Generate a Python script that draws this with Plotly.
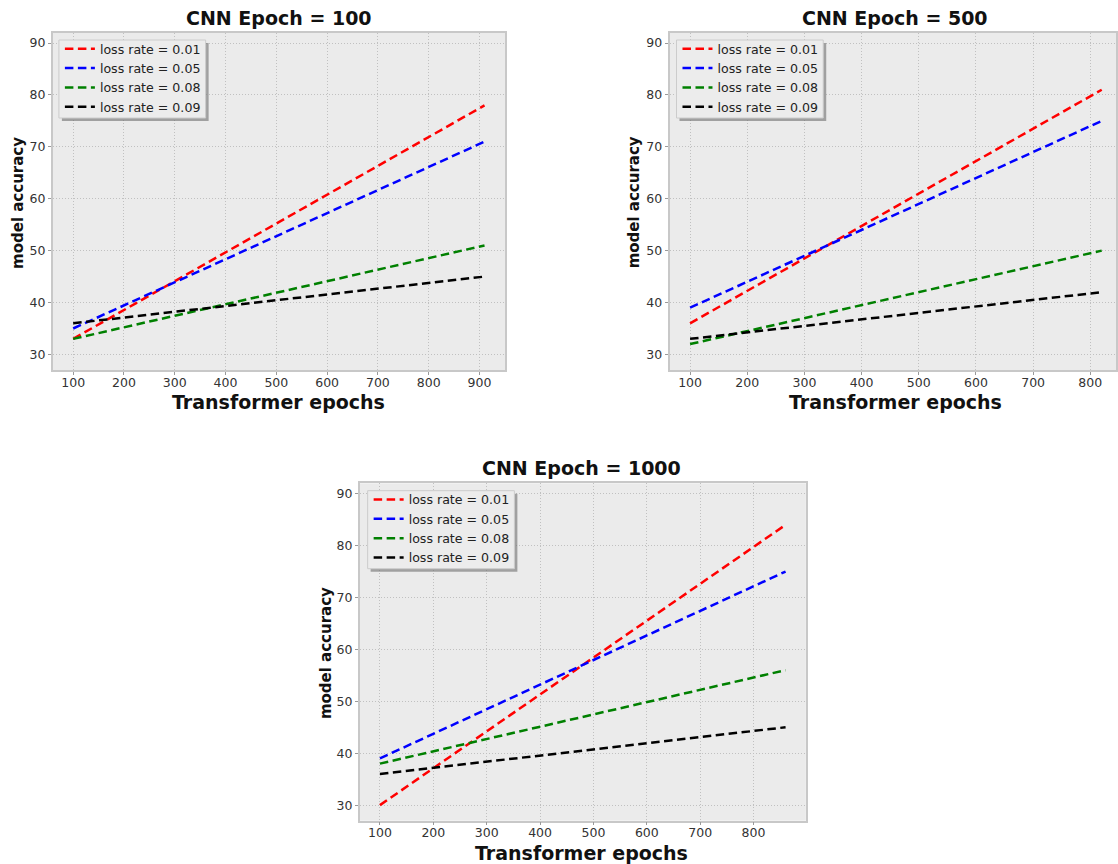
import plotly.graph_objects as go

# ---- data ----
titles = ["CNN Epoch = 100", "CNN Epoch = 500", "CNN Epoch = 1000"]
series_names = ["loss rate = 0.01", "loss rate = 0.05", "loss rate = 0.08", "loss rate = 0.09"]
colors = ["#ff0000", "#0000ff", "#008000", "#000000"]

x_ep100 = [100, 910]
y_ep100 = {
    "loss rate = 0.01": [33, 78],
    "loss rate = 0.05": [35, 71],
    "loss rate = 0.08": [33, 51],
    "loss rate = 0.09": [36, 45],
}
x_ep500 = [100, 820]
y_ep500 = {
    "loss rate = 0.01": [36, 81],
    "loss rate = 0.05": [39, 75],
    "loss rate = 0.08": [32, 50],
    "loss rate = 0.09": [33, 42],
}
x_ep1000 = [100, 860]
y_ep1000 = {
    "loss rate = 0.01": [30, 84],
    "loss rate = 0.05": [39, 75],
    "loss rate = 0.08": [38, 56],
    "loss rate = 0.09": [36, 45],
}
x_ticks = [100, 200, 300, 400, 500, 600, 700, 800, 900]
y_ticks = [30, 40, 50, 60, 70, 80, 90]

W, H = 1118, 864
FONT = "DejaVu Sans"

panels = [
    dict(x=x_ep100, ys=y_ep100, xdom=[52.7 / W, 506 / W], ydom=[1 - 370 / H, 1 - 32.7 / H],
         xr=[59.5, 950.5], legend_px=(59, 40)),
    dict(x=x_ep500, ys=y_ep500, xdom=[670.7 / W, 1.0], ydom=[1 - 370 / H, 1 - 32.7 / H],
         xr=[64, 845], legend_px=(677.7, 40)),
    dict(x=x_ep1000, ys=y_ep1000, xdom=[360.3 / W, 807.3 / W], ydom=[1 - 820.7 / H, 1 - 483.3 / H],
         xr=[62, 898], legend_px=(368.3, 490.7)),
]
LEG_W, LEG_H = 147, 78

fig = go.Figure()
layout = dict(width=W, height=H, margin=dict(l=0, r=0, t=0, b=0),
              paper_bgcolor="white", plot_bgcolor="#ebebeb",
              font=dict(family=FONT, color="#333333", size=12), showlegend=True)
annotations = []
shapes = []

for i, p in enumerate(panels):
    k = "" if i == 0 else str(i + 1)
    lg = "legend" if i == 0 else f"legend{i + 1}"
    for name, col in zip(series_names, colors):
        fig.add_trace(go.Scatter(
            x=p["x"], y=p["ys"][name], mode="lines", name=name,
            line=dict(color=col, width=2.5, dash="8.5px,4.5px"),
            xaxis="x" + k, yaxis="y" + k, legend=lg, hoverinfo="skip"))
    axcommon = dict(showline=True, linecolor="#c8c8c8", linewidth=1.5, mirror=True,
                    showgrid=True, gridcolor="#c0c0c0", griddash="1px,2px", gridwidth=1,
                    zeroline=False, ticks="outside", ticklen=3, tickcolor="#9a9a9a",
                    tickfont=dict(size=12.5, color="#333333", family=FONT))
    layout["xaxis" + k] = dict(axcommon, domain=p["xdom"], range=p["xr"], tickvals=x_ticks,
                               anchor="y" + k, ticklabelstandoff=-3)
    layout["yaxis" + k] = dict(axcommon, domain=p["ydom"], range=[27, 92], tickvals=y_ticks,
                               anchor="x" + k)
    lx, ly = p["legend_px"]
    layout[lg] = dict(x=(lx + 1) / W, y=1 - (ly - 6) / H, xanchor="left", yanchor="top",
                      bgcolor="rgba(0,0,0,0)", borderwidth=0,
                      font=dict(size=12.6, color="#222222", family=FONT),
                      itemwidth=30, tracegroupgap=0)
    # legend shadow and frame
    shapes.append(dict(type="rect", xref="paper", yref="paper",
                       x0=(lx + 3) / W, x1=(lx + LEG_W + 3) / W,
                       y0=1 - (ly + LEG_H + 3) / H, y1=1 - (ly + 3) / H,
                       fillcolor="rgba(110,110,110,0.6)", line=dict(width=0), layer="above"))
    shapes.append(dict(type="rect", xref="paper", yref="paper",
                       x0=lx / W, x1=(lx + LEG_W) / W,
                       y0=1 - (ly + LEG_H) / H, y1=1 - ly / H,
                       fillcolor="#ececec", line=dict(width=1, color="#cccccc"), layer="above"))

# titles and axis labels
title_pos = [(279, 17.5), (897, 17.5), (583, 468)]
xlabel_pos = [(279, 401.5), (897, 401.5), (583, 852.5)]
ylabel_pos = [(17.5, 202.5), (635, 202.5), (326.7, 653)]
for i in range(3):
    tx, ty = title_pos[i]
    annotations.append(dict(text="<b>%s</b>" % titles[i], x=tx / W, y=1 - ty / H, xref="paper", yref="paper",
                            showarrow=False, xanchor="center", yanchor="middle",
                            font=dict(size=19, color="#111111", family=FONT)))
    xx, xy = xlabel_pos[i]
    annotations.append(dict(text="<b>Transformer epochs</b>", x=xx / W, y=1 - xy / H, xref="paper", yref="paper",
                            showarrow=False, xanchor="center", yanchor="middle",
                            font=dict(size=19, color="#111111", family=FONT)))
    yx, yy = ylabel_pos[i]
    annotations.append(dict(text="<b>model accuracy</b>", x=yx / W, y=1 - yy / H, xref="paper", yref="paper",
                            showarrow=False, xanchor="center", yanchor="middle", textangle=-90,
                            font=dict(size=15, color="#111111", family=FONT)))

layout["annotations"] = annotations
layout["shapes"] = shapes
fig.update_layout(**layout)
fig.write_html("out.html", config={"displayModeBar": False},
               post_script="document.body.style.margin='0';document.body.style.overflow='hidden';")
